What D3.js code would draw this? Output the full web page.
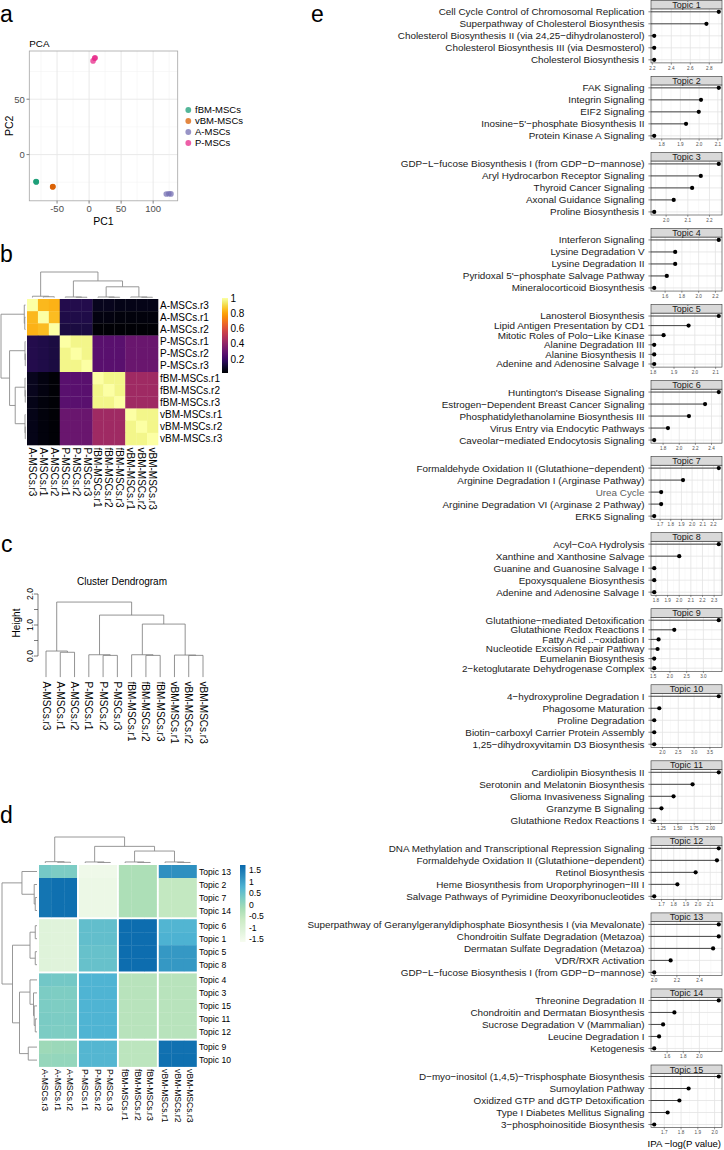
<!DOCTYPE html>
<html><head><meta charset="utf-8">
<script src="https://cdn.jsdelivr.net/npm/d3@7/dist/d3.min.js"></script>
<style>
html,body{margin:0;padding:0;background:#fff;}
svg{display:block;font-family:"Liberation Sans",Arial,Helvetica,sans-serif;}
</style></head>
<body><svg id="fig" width="724" height="1150"></svg>
<script>
// ================= DATA =================
// (a) PCA
const pcaGroups = ["fBM-MSCs","vBM-MSCs","A-MSCs","P-MSCs"];
const pcaColors = ["#1b9e77","#d95f02","#7570b3","#e7298a"];
const pcaSampleGroup = ["fBM-MSCs","fBM-MSCs","fBM-MSCs","vBM-MSCs","vBM-MSCs","vBM-MSCs","A-MSCs","A-MSCs","A-MSCs","P-MSCs","P-MSCs","P-MSCs"];
const pcaPC1 = [-82.8,-82.4,-82.6,-56.9,-56.5,-56.7,120.5,124.5,127.8,8.8,6.2,9.3];
const pcaPC2 = [-24.3,-24.7,-24.5,-29.2,-28.8,-29.0,-35.6,-35.4,-35.5,87.0,84.6,87.4];
const pcaXTicks = [-50,0,50,100];
const pcaYTicks = [0,50];

// (b) sample correlation heatmap
const samples = ["A-MSCs.r3","A-MSCs.r1","A-MSCs.r2","P-MSCs.r1","P-MSCs.r2","P-MSCs.r3","fBM-MSCs.r1","fBM-MSCs.r2","fBM-MSCs.r3","vBM-MSCs.r1","vBM-MSCs.r2","vBM-MSCs.r3"];
const corValues = [
 [1.00,0.84,0.83,0.15,0.15,0.15,0.07,0.07,0.06,0.06,0.06,0.06],
 [0.84,1.00,0.85,0.14,0.14,0.14,0.05,0.05,0.04,0.04,0.04,0.04],
 [0.83,0.85,1.00,0.13,0.13,0.13,0.03,0.03,0.03,0.03,0.03,0.03],
 [0.15,0.14,0.13,1.00,0.97,0.97,0.27,0.27,0.27,0.31,0.31,0.31],
 [0.15,0.14,0.13,0.97,1.00,0.97,0.27,0.27,0.27,0.31,0.31,0.31],
 [0.15,0.14,0.13,0.97,0.97,1.00,0.27,0.27,0.27,0.31,0.31,0.31],
 [0.07,0.05,0.03,0.27,0.27,0.27,1.00,0.97,0.97,0.44,0.44,0.44],
 [0.07,0.05,0.03,0.27,0.27,0.27,0.97,1.00,0.97,0.44,0.44,0.44],
 [0.06,0.04,0.03,0.27,0.27,0.27,0.97,0.97,1.00,0.44,0.44,0.44],
 [0.06,0.04,0.03,0.31,0.31,0.31,0.44,0.44,0.44,1.00,0.97,0.97],
 [0.06,0.04,0.03,0.31,0.31,0.31,0.44,0.44,0.44,0.97,1.00,0.97],
 [0.06,0.04,0.03,0.31,0.31,0.31,0.44,0.44,0.44,0.97,0.97,1.00]
];
const corTicks = [0.2,0.4,0.6,0.8,1];
// hclust-style merges (negative = sample index, positive = earlier merge)
const corMergeA = [-2,-1,-5,-4,-8,-7,-11,-10,6,4,2];
const corMergeB = [-3, 1,-6, 3,-9, 5,-12, 7,8,9,10];
const corMergeH = [0.03,0.05,0.01,0.02,0.01,0.02,0.01,0.02,0.42,0.65,1.0];

// (c) cluster dendrogram
const clMergeA = [-2,-1,-5,-4,-8,-7,-11,-10,6,4,2];
const clMergeB = [-3, 1,-6, 3,-9, 5,-12, 7,8,9,10];
const clMergeH = [0.12,0.16,0.02,0.04,0.02,0.04,0.02,0.03,1.03,1.32,1.74];
const clTicks = [0,0.5,1,1.5,2];
const clTickLabels = [0,1,2];

// (d) topic heatmap
const topicRows = ["Topic 13","Topic 2","Topic 7","Topic 14","Topic 6","Topic 1","Topic 5","Topic 8","Topic 4","Topic 3","Topic 15","Topic 11","Topic 12","Topic 9","Topic 10"];
const topicRowCut = [0,0,0,0,1,1,1,1,2,2,2,2,2,3,3];
const topicColCut = [0,0,0,1,1,1,2,2,2,3,3,3];
const topicValues = [
 [0.35,0.28,0.28,-1.45,-1.45,-1.45,-0.25,-0.25,-0.25,1.20,1.20,1.20],
 [1.55,1.62,1.62,-1.40,-1.40,-1.40,-0.25,-0.25,-0.25,-0.55,-0.55,-0.55],
 [1.55,1.62,1.62,-1.40,-1.40,-1.40,-0.25,-0.25,-0.25,-0.55,-0.55,-0.55],
 [1.55,1.62,1.62,-1.40,-1.40,-1.40,-0.25,-0.25,-0.25,-0.55,-0.55,-0.55],
 [-1.12,-1.15,-1.15,0.55,0.55,0.55,1.65,1.65,1.65,0.72,0.72,0.72],
 [-1.12,-1.15,-1.15,0.55,0.55,0.55,1.65,1.65,1.65,0.78,0.78,0.78],
 [-1.12,-1.15,-1.15,0.50,0.50,0.50,1.65,1.65,1.65,1.10,1.10,1.10],
 [-1.12,-1.15,-1.15,0.50,0.50,0.50,1.65,1.65,1.65,1.10,1.10,1.10],
 [0.38,0.36,0.36,0.75,0.75,0.75,-0.40,-0.40,-0.40,-0.40,-0.40,-0.40],
 [0.28,0.26,0.26,0.75,0.75,0.75,-0.40,-0.40,-0.40,-0.40,-0.40,-0.40],
 [0.28,0.26,0.26,0.75,0.75,0.75,-0.40,-0.40,-0.40,-0.40,-0.40,-0.40],
 [0.30,0.28,0.28,0.75,0.75,0.75,-0.40,-0.40,-0.40,-0.40,-0.40,-0.40],
 [0.28,0.26,0.26,0.75,0.75,0.75,-0.40,-0.40,-0.40,-0.40,-0.40,-0.40],
 [-0.08,-0.05,-0.05,0.70,0.70,0.70,-0.45,-0.45,-0.45,1.60,1.60,1.60],
 [0.00,0.02,0.02,0.70,0.70,0.70,-0.45,-0.45,-0.45,1.62,1.62,1.62]
];
const topicPalette = ["#f7fcf0","#e0f3db","#ccebc5","#a8ddb5","#7bccc4","#4eb3d3","#2b8cbe","#0868ac"];
const topicDomain = [-1.62,1.72];
const topicTicks = [-1.5,-1,-0.5,0,0.5,1,1.5];
const tColMergeA = [-2,-1,-5,-4,-8,-7,-11,-10,6,4,2];
const tColMergeB = [-3, 1,-6, 3,-9, 5,-12, 7,8,9,10];
const tColMergeH = [0.03,0.05,0.02,0.04,0.02,0.04,0.02,0.04,0.46,0.64,1.0];
const tRowMergeA = [-3,-2,-1,-5,-7,4,-12,-11,-10,-9,-14,10,6,3];
const tRowMergeB = [-4, 1, 2,-6,-8,5,-13, 7, 8, 9,-15,11,12,13];
const tRowMergeH = [0.05,0.08,0.43,0.05,0.05,0.2,0.05,0.08,0.1,0.2,0.25,0.5,0.7,1.0];

// (e) IPA pathways per topic
const ipaTopics = ["Topic 1","Topic 2","Topic 3","Topic 4","Topic 5","Topic 6","Topic 7","Topic 8","Topic 9","Topic 10","Topic 11","Topic 12","Topic 13","Topic 14","Topic 15"];
const ipaPathways = [
 ["Cell Cycle Control of Chromosomal Replication","Superpathway of Cholesterol Biosynthesis","Cholesterol Biosynthesis II (via 24,25\u2212dihydrolanosterol)","Cholesterol Biosynthesis III (via Desmosterol)","Cholesterol Biosynthesis I"],
 ["FAK Signaling","Integrin Signaling","EIF2 Signaling","Inosine\u22125'\u2212phosphate Biosynthesis II","Protein Kinase A Signaling"],
 ["GDP\u2212L\u2212fucose Biosynthesis I (from GDP\u2212D\u2212mannose)","Aryl Hydrocarbon Receptor Signaling","Thyroid Cancer Signaling","Axonal Guidance Signaling","Proline Biosynthesis I"],
 ["Interferon Signaling","Lysine Degradation V","Lysine Degradation II","Pyridoxal 5'\u2212phosphate Salvage Pathway","Mineralocorticoid Biosynthesis"],
 ["Lanosterol Biosynthesis","Lipid Antigen Presentation by CD1","Mitotic Roles of Polo\u2212Like Kinase","Alanine Degradation III","Alanine Biosynthesis II","Adenine and Adenosine Salvage I"],
 ["Huntington's Disease Signaling","Estrogen\u2212Dependent Breast Cancer Signaling","Phosphatidylethanolamine Biosynthesis III","Virus Entry via Endocytic Pathways","Caveolar\u2212mediated Endocytosis Signaling"],
 ["Formaldehyde Oxidation II (Glutathione\u2212dependent)","Arginine Degradation I (Arginase Pathway)","Urea Cycle","Arginine Degradation VI (Arginase 2 Pathway)","ERK5 Signaling"],
 ["Acyl\u2212CoA Hydrolysis","Xanthine and Xanthosine Salvage","Guanine and Guanosine Salvage I","Epoxysqualene Biosynthesis","Adenine and Adenosine Salvage I"],
 ["Glutathione\u2212mediated Detoxification","Glutathione Redox Reactions I","Fatty Acid ..\u2212oxidation I","Nucleotide Excision Repair Pathway","Eumelanin Biosynthesis","2\u2212ketoglutarate Dehydrogenase Complex"],
 ["4\u2212hydroxyproline Degradation I","Phagosome Maturation","Proline Degradation","Biotin\u2212carboxyl Carrier Protein Assembly","1,25\u2212dihydroxyvitamin D3 Biosynthesis"],
 ["Cardiolipin Biosynthesis II","Serotonin and Melatonin Biosynthesis","Glioma Invasiveness Signaling","Granzyme B Signaling","Glutathione Redox Reactions I"],
 ["DNA Methylation and Transcriptional Repression Signaling","Formaldehyde Oxidation II (Glutathione\u2212dependent)","Retinol Biosynthesis","Heme Biosynthesis from Uroporphyrinogen\u2212III I","Salvage Pathways of Pyrimidine Deoxyribonucleotides"],
 ["Superpathway of Geranylgeranyldiphosphate Biosynthesis I (via Mevalonate)","Chondroitin Sulfate Degradation (Metazoa)","Dermatan Sulfate Degradation (Metazoa)","VDR/RXR Activation","GDP\u2212L\u2212fucose Biosynthesis I (from GDP\u2212D\u2212mannose)"],
 ["Threonine Degradation II","Chondroitin and Dermatan Biosynthesis","Sucrose Degradation V (Mammalian)","Leucine Degradation I","Ketogenesis"],
 ["D\u2212myo\u2212inositol (1,4,5)\u2212Trisphosphate Biosynthesis","Sumoylation Pathway","Oxidized GTP and dGTP Detoxification","Type I Diabetes Mellitus Signaling","3\u2212phosphoinositide Biosynthesis"]
];
const ipaValues = [
 [2.90,2.77,2.22,2.22,2.22],
 [2.105,2.01,1.998,1.93,1.76],
 [2.243,2.16,2.12,2.035,1.945],
 [2.24,1.72,1.72,1.62,1.47],
 [2.115,1.97,1.85,1.805,1.805,1.805],
 [2.49,2.32,2.12,1.86,1.69],
 [2.25,1.915,1.71,1.71,1.645],
 [2.34,2.00,1.785,1.785,1.785],
 [3.46,2.13,1.66,1.63,1.53,1.53],
 [3.78,1.90,1.74,1.74,1.74],
 [2.125,1.725,1.435,1.25,1.14],
 [2.17,2.155,1.98,1.83,1.64],
 [2.57,2.57,2.52,2.145,2.00],
 [2.24,1.69,1.55,1.50,1.44],
 [2.025,1.845,1.79,1.72,1.64]
];
const ipaTicks = [
 [2.2,2.4,2.6,2.8],[1.8,1.9,2.0,2.1],[2.0,2.1,2.2],[1.6,1.8,2.0,2.2],[1.8,1.9,2.0,2.1],
 [1.8,2.0,2.2,2.4],[1.7,1.8,1.9,2.0,2.1,2.2],[1.8,1.9,2.0,2.1,2.2,2.3],[1.5,2.0,2.5,3.0],[2.0,2.5,3.0,3.5],
 [1.25,1.50,1.75,2.00],[1.7,1.8,1.9,2.0,2.1],[2.0,2.2,2.4],[1.6,1.8,2.0],[1.7,1.8,1.9,2.0]
];
const ipaTickFormat = [".1f",".1f",".1f",".1f",".1f",".1f",".1f",".1f",".1f",".1f",".2f",".1f",".1f",".1f",".1f"];
const ipaGreyLabels = ["Urea Cycle"];

// ================= DRAWING =================
const svg = d3.select("#fig");
const defs = svg.append("defs");
const DARK = "#1a1a1a", AXIS_GREY = "#4d4d4d", DENDRO = "#8c8c8c";

function panelLetter(t, x, y){
  svg.append("text").attr("x",x).attr("y",y).attr("font-size",23).attr("fill","#000").text(t);
}
panelLetter("a",0,22); panelLetter("b",0,262); panelLetter("c",1,552); panelLetter("d",0,823); panelLetter("e",311,21.5);

function padExtent(arr, m){ const e=d3.extent(arr); const r=(e[1]-e[0])*m; return [e[0]-r,e[1]+r]; }
function minorOf(ticks, dom){ const s=ticks[1]-ticks[0]; const out=[]; for(let v=ticks[0]-s/2; v<=dom[1]; v+=s){ if(v>=dom[0]) out.push(v);} return out; }

// dendrogram from hclust-like merges
function drawDendro(g, mA, mB, mH, leafPos, hScale, orient, leafH){
  const pos=[];
  const node = k => k<0 ? {p:leafPos(-k-1), h:leafH} : {p:pos[k-1], h:mH[k-1]};
  const p = d3.path();
  mH.forEach((h,i)=>{
    const a=node(mA[i]), b=node(mB[i]);
    pos.push((a.p+b.p)/2);
    if(orient==="top"){
      p.moveTo(a.p,hScale(a.h)); p.lineTo(a.p,hScale(h)); p.lineTo(b.p,hScale(h)); p.lineTo(b.p,hScale(b.h));
    } else {
      p.moveTo(hScale(a.h),a.p); p.lineTo(hScale(h),a.p); p.lineTo(hScale(h),b.p); p.lineTo(hScale(b.h),b.p);
    }
  });
  return g.append("path").attr("d",p.toString()).attr("fill","none");
}

// ---------- (a) PCA ----------
{
  const P = {l:29.3, r:177.7, t:51, b:200.8};
  const xd = padExtent(pcaPC1,0.05), yd = padExtent(pcaPC2,0.05);
  const x = d3.scaleLinear().domain(xd).range([P.l,P.r]);
  const y = d3.scaleLinear().domain(yd).range([P.b,P.t]);
  const col = d3.scaleOrdinal().domain(pcaGroups).range(pcaColors);
  const g = svg.append("g");
  g.append("rect").attr("x",P.l).attr("y",P.t).attr("width",P.r-P.l).attr("height",P.b-P.t).attr("fill","#fff");
  minorOf(pcaXTicks,xd).forEach(v=>g.append("line").attr("x1",x(v)).attr("x2",x(v)).attr("y1",P.t).attr("y2",P.b).attr("stroke","#f3f3f3").attr("stroke-width",0.6));
  minorOf(pcaYTicks,yd).forEach(v=>g.append("line").attr("y1",y(v)).attr("y2",y(v)).attr("x1",P.l).attr("x2",P.r).attr("stroke","#f3f3f3").attr("stroke-width",0.6));
  pcaXTicks.forEach(v=>g.append("line").attr("x1",x(v)).attr("x2",x(v)).attr("y1",P.t).attr("y2",P.b).attr("stroke","#e6e6e6").attr("stroke-width",0.9));
  pcaYTicks.forEach(v=>g.append("line").attr("y1",y(v)).attr("y2",y(v)).attr("x1",P.l).attr("x2",P.r).attr("stroke","#e6e6e6").attr("stroke-width",0.9));
  pcaPC1.forEach((v,i)=>g.append("circle").attr("cx",x(v)).attr("cy",y(pcaPC2[i])).attr("r",2.8).attr("fill",col(pcaSampleGroup[i])).attr("fill-opacity",0.75));
  g.append("rect").attr("x",P.l).attr("y",P.t).attr("width",P.r-P.l).attr("height",P.b-P.t).attr("fill","none").attr("stroke","#a6a6a6").attr("stroke-width",0.8);
  pcaXTicks.forEach(v=>{
    g.append("line").attr("x1",x(v)).attr("x2",x(v)).attr("y1",P.b).attr("y2",P.b+2.8).attr("stroke","#333").attr("stroke-width",0.6);
    g.append("text").attr("x",x(v)).attr("y",P.b+11).attr("text-anchor","middle").attr("font-size",9.5).attr("fill",AXIS_GREY).text(v);
  });
  pcaYTicks.forEach(v=>{
    g.append("line").attr("x1",P.l-2.8).attr("x2",P.l).attr("y1",y(v)).attr("y2",y(v)).attr("stroke","#333").attr("stroke-width",0.6);
    g.append("text").attr("x",P.l-4.5).attr("y",y(v)).attr("dy","0.35em").attr("text-anchor","end").attr("font-size",9.5).attr("fill",AXIS_GREY).text(v);
  });
  g.append("text").attr("x",P.l).attr("y",P.t-4).attr("font-size",9.8).attr("fill","#000").text("PCA");
  g.append("text").attr("x",(P.l+P.r)/2).attr("y",P.b+24).attr("text-anchor","middle").attr("font-size",10.5).attr("fill","#000").text("PC1");
  g.append("text").attr("transform",`translate(${12.5},${(P.t+P.b)/2}) rotate(-90)`).attr("text-anchor","middle").attr("font-size",10.5).attr("fill","#000").text("PC2");
  pcaGroups.forEach((grp,i)=>{
    const cy = 110 + i*11;
    g.append("circle").attr("cx",188.3).attr("cy",cy).attr("r",2.9).attr("fill",pcaColors[i]).attr("fill-opacity",0.75);
    g.append("text").attr("x",195).attr("y",cy).attr("dy","0.35em").attr("font-size",9.5).attr("fill","#000").text(grp);
  });
}

// ---------- (b) correlation heatmap ----------
{
  const g = svg.append("g");
  const x = d3.scaleBand().domain(samples).range([27,158]);
  const y = d3.scaleBand().domain(samples).range([299,445]);
  const col = d3.scaleSequential(d3.interpolateInferno).domain([0.02,1]);
  corValues.forEach((row,i)=>row.forEach((v,j)=>{
    g.append("rect").attr("x",x(samples[j])).attr("y",y(samples[i])).attr("width",x.bandwidth()+0.3).attr("height",y.bandwidth()+0.3).attr("fill",col(v));
  }));
  samples.forEach(s=>{
    g.append("text").attr("x",160).attr("y",y(s)+y.bandwidth()/2).attr("dy","0.35em").attr("font-size",10).attr("fill","#000").text(s);
    g.append("text").attr("transform",`translate(${x(s)+x.bandwidth()/2},${447.5}) rotate(90)`).attr("dy","0.35em").attr("font-size",10).attr("fill","#000").text(s);
  });
  const hTop = d3.scaleLinear().domain([0,1]).range([297.5,272]);
  drawDendro(g,corMergeA,corMergeB,corMergeH,k=>x(samples[k])+x.bandwidth()/2,hTop,"top",0).attr("stroke",DENDRO).attr("stroke-width",0.9);
  const hLeft = d3.scaleLinear().domain([0,1]).range([25.5,1]);
  drawDendro(g,corMergeA,corMergeB,corMergeH,k=>y(samples[k])+y.bandwidth()/2,hLeft,"left",0).attr("stroke",DENDRO).attr("stroke-width",0.9);
  const cb = d3.scaleLinear().domain([0.02,1]).range([373,298]);
  const gr = defs.append("linearGradient").attr("id","gInf").attr("x1",0).attr("y1",1).attr("x2",0).attr("y2",0);
  d3.range(0,1.0001,0.05).forEach(t=>gr.append("stop").attr("offset",t).attr("stop-color",d3.interpolateInferno(t)));
  g.append("rect").attr("x",222).attr("y",cb(1)).attr("width",6).attr("height",cb(0.02)-cb(1)).attr("fill","url(#gInf)");
  corTicks.forEach(v=>g.append("text").attr("x",230.5).attr("y",cb(v)).attr("dy","0.35em").attr("font-size",10).attr("fill","#000").text(v));
}

// ---------- (c) cluster dendrogram ----------
{
  const g = svg.append("g");
  const x = d3.scalePoint().domain(samples).range([46,203]);
  const y = d3.scaleLinear().domain([0,2]).range([656,594]);
  g.append("text").attr("x",122).attr("y",585).attr("text-anchor","middle").attr("font-size",10).attr("fill","#000").text("Cluster Dendrogram");
  g.append("line").attr("x1",38).attr("x2",38).attr("y1",y(0)).attr("y2",y(2)).attr("stroke","#444").attr("stroke-width",0.7);
  clTicks.forEach(v=>g.append("line").attr("x1",34).attr("x2",38).attr("y1",y(v)).attr("y2",y(v)).attr("stroke","#444").attr("stroke-width",0.7));
  clTickLabels.forEach(v=>g.append("text").attr("transform",`translate(33,${y(v)}) rotate(-90)`).attr("text-anchor","middle").attr("font-size",8.5).attr("fill","#000").text(d3.format(".1f")(v)));
  g.append("text").attr("transform",`translate(20,623) rotate(-90)`).attr("text-anchor","middle").attr("font-size",10).attr("fill","#000").text("Height");
  drawDendro(g,clMergeA,clMergeB,clMergeH,k=>x(samples[k]),y,"top",-0.68).attr("stroke","#777").attr("stroke-width",0.8);
  samples.forEach(s=>g.append("text").attr("transform",`translate(${x(s)},${681.5}) rotate(90)`).attr("dy","0.35em").attr("font-size",10).attr("fill","#000").text(s));
}

// ---------- (d) topic heatmap ----------
{
  const g = svg.append("g");
  const gap = 2.2, cw = (196.5-39-3*gap)/12, rh = 13;
  const cx = j => 39 + j*cw + topicColCut[j]*gap;
  const ry = i => 865 + i*rh + topicRowCut[i]*gap;
  const col = d3.scaleSequential(d3.piecewise(d3.interpolateRgb, topicPalette)).domain(topicDomain);
  topicValues.forEach((row,i)=>row.forEach((v,j)=>{
    g.append("rect").attr("x",cx(j)).attr("y",ry(i)).attr("width",cw+0.3).attr("height",rh+0.3).attr("fill",col(v));
  }));
  topicRows.forEach((t,i)=>g.append("text").attr("x",199).attr("y",ry(i)+rh/2).attr("dy","0.35em").attr("font-size",8.6).attr("fill","#000").text(t));
  const lastY = ry(topicRows.length-1)+rh;
  samples.forEach((s,j)=>g.append("text").attr("transform",`translate(${cx(j)+cw/2},${lastY+2.5}) rotate(90)`).attr("dy","0.35em").attr("font-size",8.6).attr("fill","#000").text(s));
  const hTop = d3.scaleLinear().domain([0,1]).range([863,837]);
  drawDendro(g,tColMergeA,tColMergeB,tColMergeH,k=>cx(k)+cw/2,hTop,"top",0).attr("stroke",DENDRO).attr("stroke-width",0.9);
  const hLeft = d3.scaleLinear().domain([0,1]).range([37,2]);
  drawDendro(g,tRowMergeA,tRowMergeB,tRowMergeH,k=>ry(k)+rh/2,hLeft,"left",0).attr("stroke",DENDRO).attr("stroke-width",0.9);
  const cb = d3.scaleLinear().domain(topicDomain).range([942,865]);
  const gr = defs.append("linearGradient").attr("id","gGnBu").attr("x1",0).attr("y1",1).attr("x2",0).attr("y2",0);
  topicPalette.forEach((c,i)=>gr.append("stop").attr("offset",i/(topicPalette.length-1)).attr("stop-color",c));
  g.append("rect").attr("x",240).attr("y",cb(topicDomain[1])).attr("width",5.5).attr("height",cb(topicDomain[0])-cb(topicDomain[1])).attr("fill","url(#gGnBu)");
  topicTicks.forEach(v=>g.append("text").attr("x",249).attr("y",cb(v)).attr("dy","0.35em").attr("font-size",8.6).attr("fill","#000").text(v));
}

// ---------- (e) IPA lollipops ----------
{
  const g = svg.append("g");
  const PL = 651, PR = 722, stripH = 8.6, panelH = 54;
  const facetTop = d3.scaleBand().domain(ipaTopics).range([0.3, 0.3 + 15*76.05]);
  ipaTopics.forEach((topic,ti)=>{
    const top = facetTop(topic), pt = top+stripH, pb = pt+panelH;
    const vals = ipaValues[ti], names = ipaPathways[ti];
    const x = d3.scaleLinear().domain(padExtent(vals,0.05)).range([PL,PR]);
    const y = d3.scalePoint().domain(names).range([pt+2.9,pb-3.1]);
    const f = g.append("g");
    f.append("rect").attr("x",PL).attr("y",pt).attr("width",PR-PL).attr("height",panelH).attr("fill","#fff");
    const tk = ipaTicks[ti];
    minorOf(tk,x.domain()).forEach(v=>f.append("line").attr("x1",x(v)).attr("x2",x(v)).attr("y1",pt).attr("y2",pb).attr("stroke","#f2f2f2").attr("stroke-width",0.5));
    tk.forEach(v=>f.append("line").attr("x1",x(v)).attr("x2",x(v)).attr("y1",pt).attr("y2",pb).attr("stroke","#e3e3e3").attr("stroke-width",0.8));
    names.forEach(n=>f.append("line").attr("x1",PL).attr("x2",PR).attr("y1",y(n)).attr("y2",y(n)).attr("stroke","#e3e3e3").attr("stroke-width",0.8));
    names.forEach((n,i)=>{
      f.append("line").attr("x1",PL).attr("x2",x(vals[i])).attr("y1",y(n)).attr("y2",y(n)).attr("stroke","#333").attr("stroke-width",0.9);
      f.append("circle").attr("cx",x(vals[i])).attr("cy",y(n)).attr("r",2.1).attr("fill","#000");
      f.append("line").attr("x1",PL-2.6).attr("x2",PL).attr("y1",y(n)).attr("y2",y(n)).attr("stroke","#333").attr("stroke-width",0.6);
      f.append("text").attr("x",PL-6.5).attr("y",y(n)).attr("dy","0.35em").attr("text-anchor","end").attr("font-size",9.9)
        .attr("fill", ipaGreyLabels.includes(n) ? "#5e5e5e" : DARK).text(n);
    });
    f.append("rect").attr("x",PL).attr("y",pt).attr("width",PR-PL).attr("height",panelH).attr("fill","none").attr("stroke","#333").attr("stroke-width",0.6);
    f.append("rect").attr("x",PL).attr("y",top).attr("width",PR-PL).attr("height",stripH).attr("fill","#d9d9d9").attr("stroke","#333").attr("stroke-width",0.6);
    f.append("text").attr("x",(PL+PR)/2).attr("y",top+stripH-1.1).attr("text-anchor","middle").attr("font-size",9).attr("fill",DARK).text(topic);
    const fmt = d3.format(ipaTickFormat[ti]);
    tk.forEach(v=>{
      f.append("line").attr("x1",x(v)).attr("x2",x(v)).attr("y1",pb).attr("y2",pb+1.8).attr("stroke","#333").attr("stroke-width",0.5);
      f.append("text").attr("x",x(v)).attr("y",pb+6.6).attr("text-anchor","middle").attr("font-size",4.6).attr("fill",AXIS_GREY).text(fmt(v));
    });
  });
  g.append("text").attr("x",684.3).attr("y",1147).attr("text-anchor","middle").attr("font-size",9.6).attr("fill","#000").text("IPA \u2212log(P value)");
}
</script></body></html>
